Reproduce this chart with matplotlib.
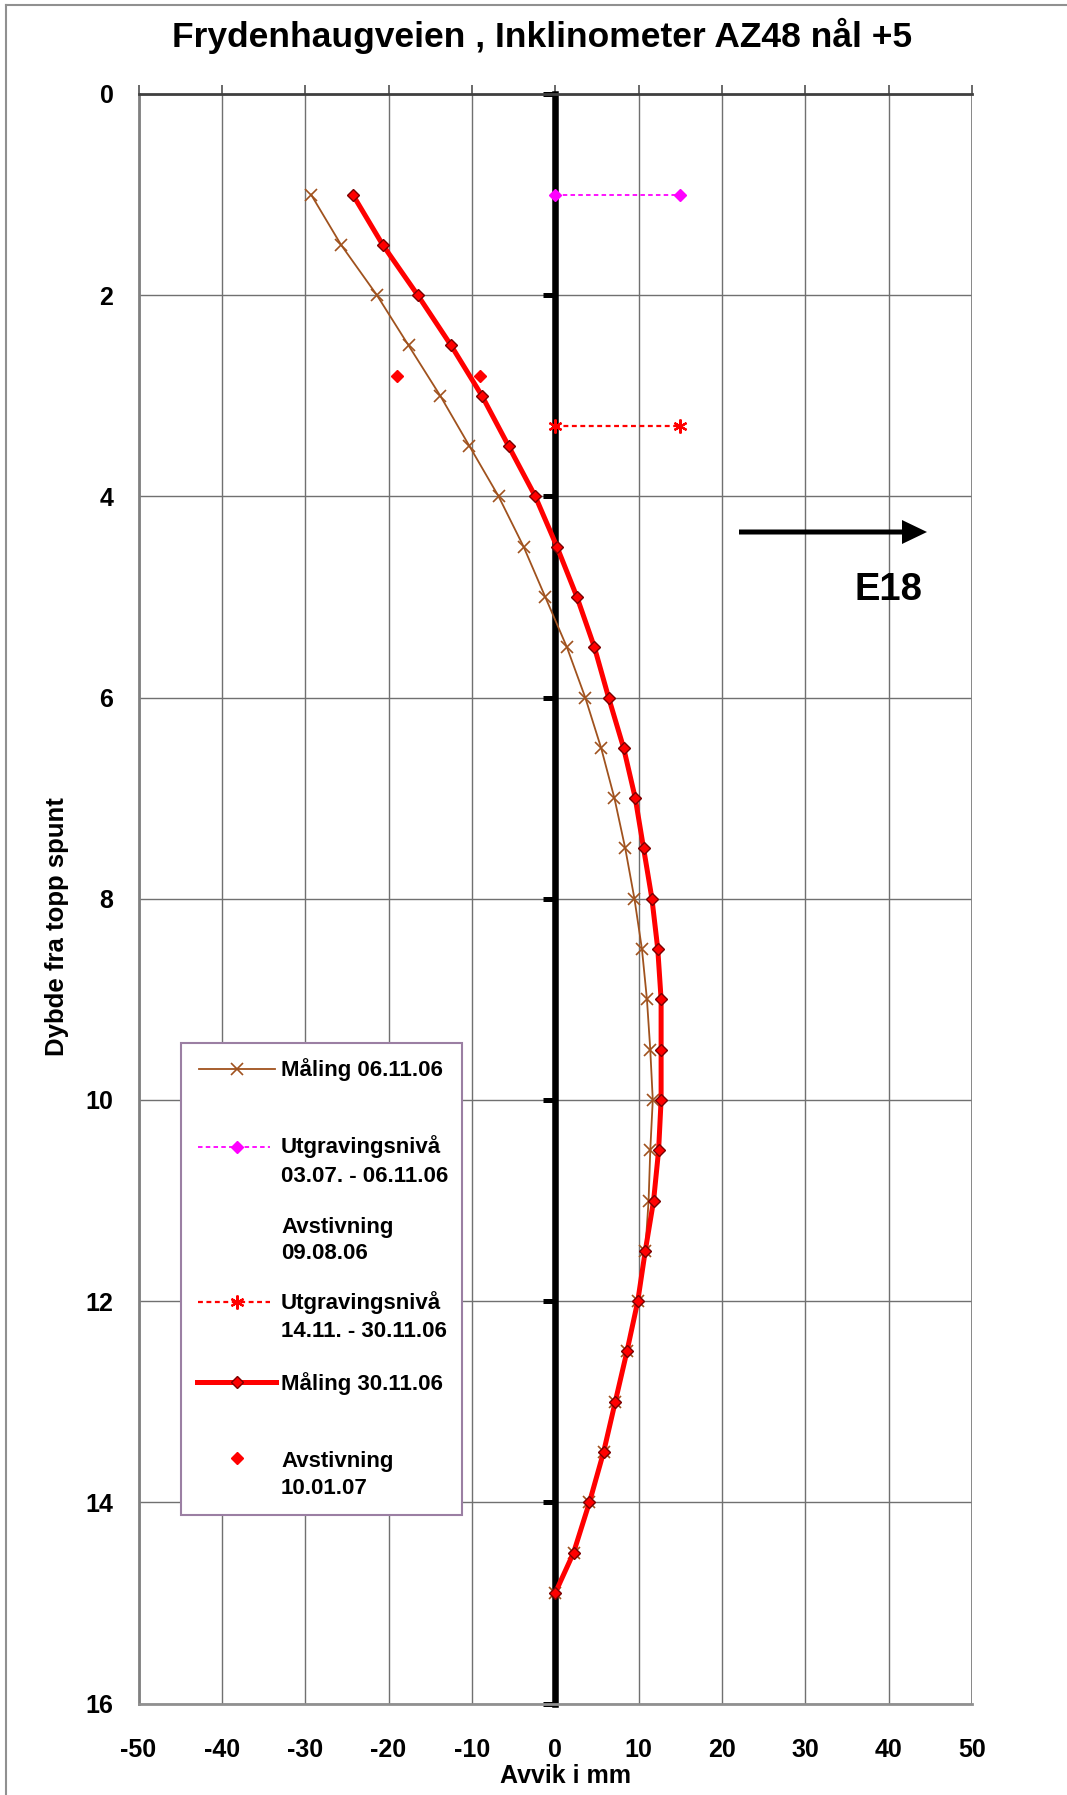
import matplotlib
matplotlib.use("Agg")
import matplotlib.pyplot as plt
from matplotlib.patches import Rectangle, FancyArrow

plt.rcParams["font.family"] = ["Liberation Sans", "DejaVu Sans"]
plt.rcParams["font.weight"] = "bold"
plt.rcParams["axes.unicode_minus"] = False

# ---- data -------------------------------------------------------------
depth = [1.0, 1.5, 2.0, 2.5, 3.0, 3.5, 4.0, 4.5, 5.0, 5.5, 6.0, 6.5, 7.0,
         7.5, 8.0, 8.5, 9.0, 9.5, 10.0, 10.5, 11.0, 11.5, 12.0, 12.5,
         13.0, 13.5, 14.0, 14.5, 14.9]
avvik_061106 = [-29.3, -25.7, -21.4, -17.6, -13.8, -10.3, -6.8, -3.8, -1.2,
                1.4, 3.6, 5.5, 7.1, 8.4, 9.5, 10.4, 11.0, 11.4, 11.7, 11.4,
                11.2, 10.8, 9.9, 8.6, 7.2, 5.8, 4.1, 2.2, 0.0]
avvik_301106 = [-24.3, -20.7, -16.5, -12.5, -8.8, -5.6, -2.4, 0.2, 2.6, 4.7,
                6.4, 8.2, 9.6, 10.6, 11.6, 12.3, 12.7, 12.7, 12.7, 12.4,
                11.8, 10.8, 9.9, 8.6, 7.2, 5.8, 4.1, 2.2, 0.0]
utgr1_x = [0, 15]
utgr1_depth = [1.0, 1.0]
utgr2_x = [0, 15]
utgr2_depth = [3.3, 3.3]
avst_x = [-19, -9]
avst_depth = [2.8, 2.8]

xticks = [-50, -40, -30, -20, -10, 0, 10, 20, 30, 40, 50]
yticks = [0, 2, 4, 6, 8, 10, 12, 14, 16]

title = "Frydenhaugveien , Inklinometer AZ48 nål +5"

BROWN = "#a0521e"
RED = "#ff0000"
DARKRED = "#7a0000"
MAGENTA = "#ff00ff"

# ---- figure -----------------------------------------------------------
W, H = 1067, 1795
fig = plt.figure(figsize=(W / 100, H / 100), dpi=100)
L, R, T, B = 138.5, 972.0, 93.9, 1703.6
ax = fig.add_axes([L / W, 1 - B / H, (R - L) / W, (B - T) / H])
ax.set_xlim(-50, 50)
ax.set_ylim(16, 0)
ax.set_xticks(xticks)
ax.set_yticks(yticks)
ax.set_axisbelow(True)
ax.grid(True, color="#707070", lw=1.0)

# frame
ax.spines["left"].set_color("#808080")
ax.spines["left"].set_linewidth(2)
ax.spines["bottom"].set_color("#909090")
ax.spines["bottom"].set_linewidth(2)
ax.spines["top"].set_color("#404040")
ax.spines["top"].set_linewidth(2)
# vertical axis crossing at zero deviation
ax.spines["right"].set_position(("data", 0))
ax.spines["right"].set_color("black")
ax.spines["right"].set_linewidth(4.7)
ax.axvline(50, color="#808080", lw=2, zorder=2.5)

ax.tick_params(axis="y", left=False, right=True, direction="in",
               length=8.6, width=3.6, color="black",
               labelleft=True, labelright=False, pad=18, labelsize=18)
ax.tick_params(axis="x", bottom=False, top=True, direction="out",
               length=6.5, width=1.2, color="#505050",
               labelbottom=True, labeltop=False, pad=18, labelsize=18)

ax.set_xlabel("Avvik i mm", fontsize=18, fontweight="bold", va="center")
ax.xaxis.set_label_coords((566 - L) / (R - L), (B - 1776) / (B - T))
ax.set_ylabel("Dybde fra topp spunt", fontsize=18.5, fontweight="bold",
              va="center", ha="center")
ax.yaxis.set_label_coords((57 - L) / (R - L), (B - 927) / (B - T))

# ---- series -----------------------------------------------------------
ax.plot(avvik_061106, depth, color=BROWN, lw=1.3, marker="x", ms=8.6,
        mew=1.2, zorder=4)
ax.plot(utgr1_x, utgr1_depth, color=MAGENTA, lw=1.3, ls=(0, (2.5, 1.8)),
        marker="D", ms=6.0, mfc=MAGENTA, mec=MAGENTA, zorder=4)
ax.plot(utgr2_x, utgr2_depth, color=RED, lw=1.6, ls=(0, (2.2, 1.6)),
        marker=(6, 2, 0), ms=10, mew=1.6, mec=RED, zorder=4)
ax.plot(avvik_301106, depth, color=RED, lw=3.6, marker="D", ms=6.6,
        mfc=RED, mec=DARKRED, mew=1.0, zorder=5)
ax.plot(avst_x, avst_depth, ls="none", marker="D", ms=6.4, mfc=RED,
        mec=RED, zorder=5)

# ---- overlay in pixel coordinates -------------------------------------
ov = fig.add_axes([0, 0, 1, 1], zorder=10)
ov.set_xlim(0, W)
ov.set_ylim(H, 0)
ov.axis("off")
ov.patch.set_alpha(0)

# page border
ov.plot([6, 6], [5, H], color="#909090", lw=1.5)
ov.plot([6, W], [5, 5], color="#909090", lw=1.5)

ov.text(542, 47, title, ha="center", va="baseline", fontsize=25.5,
        fontweight="bold")

# direction arrow
ov.add_patch(FancyArrow(739, 532, 188, 0, width=5, head_width=24,
                        head_length=25, length_includes_head=True,
                        color="black", lw=0))
ov.text(888, 600, "E18", ha="center", va="baseline", fontsize=27.5,
        fontweight="bold")

# legend
ov.add_patch(Rectangle((181, 1043), 281, 472, fc="white", ec="#9b7fa3",
                       lw=1.5))
mx = 236.7
ov.plot([199, 275], [1069, 1069], color=BROWN, lw=1.3)
ov.plot([mx], [1069], color=BROWN, marker="x", ms=8.6, mew=1.2)
ov.plot([198, 270], [1146.7, 1146.7], color=MAGENTA, lw=1.3,
        ls=(0, (2.5, 1.8)))
ov.plot([mx], [1146.7], marker="D", ms=6.0, color=MAGENTA)
ov.plot([198, 270], [1301.7, 1301.7], color=RED, lw=1.6,
        ls=(0, (2.2, 1.6)))
ov.plot([mx], [1301.7], marker=(6, 2, 0), ms=10, mew=1.6, color=RED)
ov.plot([197, 276], [1381.7, 1381.7], color=RED, lw=3.6)
ov.plot([mx], [1381.7], marker="D", ms=6.6, mfc=RED, mec=DARKRED, mew=1.0)
ov.plot([mx], [1458], marker="D", ms=6.4, color=RED)

legend_lines = [
    ("Måling 06.11.06", 1075.7),
    ("Utgravingsnivå", 1153.3),
    ("03.07. - 06.11.06", 1181.7),
    ("Avstivning", 1232.7),
    ("09.08.06", 1259.0),
    ("Utgravingsnivå", 1309.3),
    ("14.11. - 30.11.06", 1336.7),
    ("Måling 30.11.06", 1390.0),
    ("Avstivning", 1467.3),
    ("10.01.07", 1494.3),
]
for txt, yb in legend_lines:
    ov.text(281, yb, txt, ha="left", va="baseline", fontsize=16,
            fontweight="bold")

fig.savefig("out.png", dpi=100, facecolor="white")
